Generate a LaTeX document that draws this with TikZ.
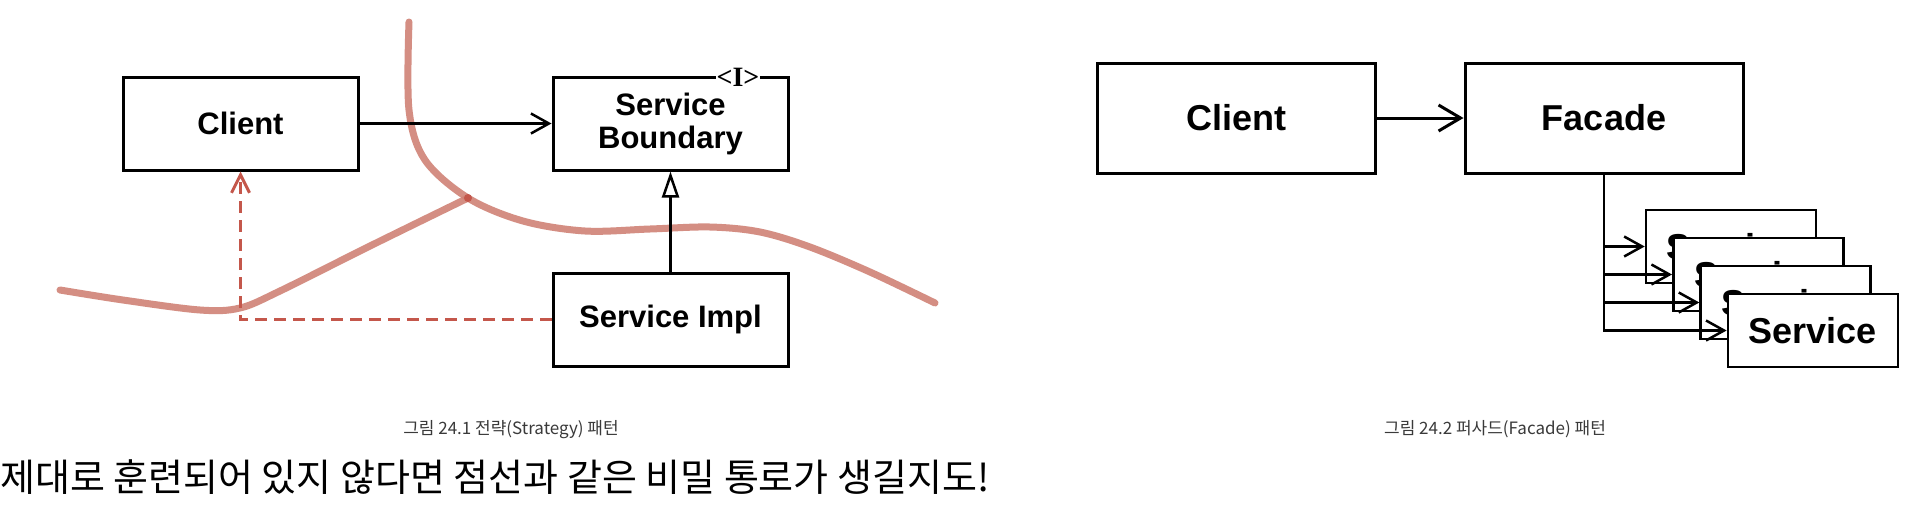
\documentclass[tikz,border=0pt]{standalone}
\usepackage{fontspec}
\setmainfont{Liberation Sans}
\newfontfamily\krfont{Noto Sans CJK KR}
\newfontfamily\markfont{Liberation Serif}
\usepackage{xcolor}
\definecolor{wallred}{HTML}{D08276}
\definecolor{leakred}{HTML}{C4574B}
\definecolor{captiongray}{HTML}{3A3A3A}
\usetikzlibrary{arrows.meta,calc}

\begin{document}
\begin{tikzpicture}[x=1pt,y=-1pt,
  umlbox/.style={draw=black,line width=3pt,fill=white,inner sep=0pt,
                 minimum width=235pt,minimum height=93pt,
                 font=\fontsize{31}{33}\selectfont\bfseries,align=center},
  bigbox/.style={umlbox,minimum width=278pt,minimum height=110pt,
                 font=\fontsize{36}{38}\selectfont\bfseries},
  svcbox/.style={umlbox,line width=2.6pt,minimum width=170pt,minimum height=73pt,
                 font=\fontsize{36}{38}\selectfont\bfseries},
  marker/.style={fill=white,inner sep=1pt,font=\fontsize{28}{28}\selectfont\markfont\bfseries},
  assoc/.style={-{Straight Barb[length=18pt,width=20pt]},line width=2.5pt},
  bigassoc/.style={-{Straight Barb[length=22pt,width=26pt]},line width=3pt},
  inherit/.style={-{Triangle[open,length=26pt,width=17pt,fill=white]},line width=2.5pt},
  leak/.style={-{Straight Barb[length=18pt,width=18pt]},leakred,line width=3pt,
               dash pattern=on 12pt off 7pt},
  wall/.style={wallred,line width=7pt,line cap=round,opacity=.9},
  caption/.style={font=\fontsize{17}{20}\selectfont\krfont,text=captiongray,anchor=base}
]
\fill[white] (0,0) rectangle (1914,504);
\useasboundingbox (0,0) rectangle (1914,504);

% strategy
\draw[wall] plot[smooth,tension=0.55] coordinates {(409,22) (409,110) (425,160) (468,198) (523,221) (585,231) (650,229) (710,227) (760,232) (810,247) (870,272) (935,303)};
\draw[wall] plot[smooth,tension=0.55] coordinates {(60,290) (123,300) (200,310) (240,308) (280,291) (370,246) (468,198)};
\fill[leakred] (468,198) circle (4pt);

\node[umlbox] (client) at (240.5,123.5) {Client};
\node[umlbox] (boundary) at (670.5,123.5) {Service\\Boundary};
\node[umlbox] (impl) at (670.5,319.5) {Service Impl};
\node[marker] (stereo) at (738,77) {<I>};

\draw[assoc] (client) -- (boundary);
\draw[inherit] (impl) -- (boundary);
\draw[leak] (impl.west) -| (client.south);

\node[caption] (cap1) at (511,434) {그림 24.1 전략(Strategy) 패턴};

% facade
\node[bigbox] (client2) at (1236.5,118) {Client};
\node[bigbox] (facade) at (1604,118) {Facade};
\draw[bigassoc] (client2) -- (facade);

\foreach \i in {1,...,4} {
  \node[svcbox] (svc\i) at ({1731+27.3*(\i-1)},{246.5+28*(\i-1)}) {Service};
  \draw[assoc] (facade.south) |- (svc\i.west);
}

\node[caption] (cap2) at (1495,434) {그림 24.2 퍼사드(Facade) 패턴};

\node[font=\fontsize{38}{42}\selectfont\krfont,anchor=base west,inner sep=0pt] (note) at (0,491)
  {제대로 훈련되어 있지 않다면 점선과 같은 비밀 통로가 생길지도!};
\end{tikzpicture}
\end{document}
